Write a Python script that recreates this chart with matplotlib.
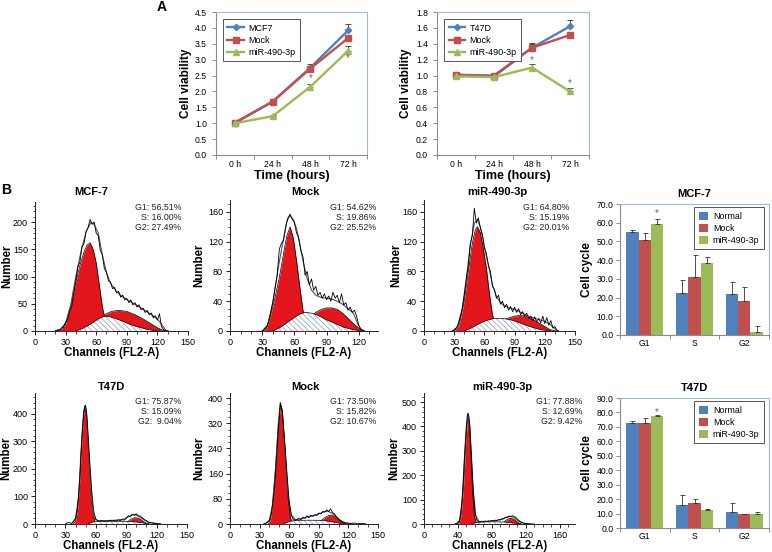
import matplotlib.pyplot as plt
import numpy as np
from matplotlib.ticker import AutoMinorLocator, MultipleLocator, FormatStrFormatter

W, H = 772, 552

BLUE = "#4F81BD"
RED = "#C0504D"
GREEN = "#9BBB59"
FLOW_RED = "#E3161C"
HATCH = "#7D9CCB"
FRAME_GRAY = "#8C8C8C"
FRAME_BLUE = "#9DB9DE"

# ---------------- panel A: cell viability ----------------
hours = ["0 h", "24 h", "48 h", "72 h"]

mcf7_ctrl = [1.00, 1.68, 2.75, 3.92]
mcf7_ctrl_err = [0.03, 0.03, 0.12, 0.20]
mcf7_mock = [1.02, 1.68, 2.72, 3.68]
mcf7_mock_err = [0.03, 0.03, 0.05, 0.05]
mcf7_mir = [1.00, 1.22, 2.15, 3.28]
mcf7_mir_err = [0.03, 0.05, 0.10, 0.15]
mcf7_stars = [(2, 2.42), (3, 3.04)]

t47d_ctrl = [1.01, 1.00, 1.35, 1.62]
t47d_ctrl_err = [0.03, 0.03, 0.05, 0.08]
t47d_mock = [1.01, 0.99, 1.35, 1.51]
t47d_mock_err = [0.02, 0.02, 0.06, 0.03]
t47d_mir = [0.99, 0.98, 1.10, 0.80]
t47d_mir_err = [0.02, 0.02, 0.05, 0.04]
t47d_stars = [(2, 1.19), (3, 0.90)]

# ---------------- panel B: cell cycle bars ----------------
phases = ["G1", "S", "G2"]
groups = ["Normal", "Mock", "miR-490-3p"]

cc_mcf7_normal = [55.0, 22.5, 22.0]
cc_mcf7_normal_err = [1.0, 7.0, 6.5]
cc_mcf7_mock = [51.0, 31.0, 18.0]
cc_mcf7_mock_err = [3.5, 11.5, 7.5]
cc_mcf7_mir = [59.2, 38.5, 1.8]
cc_mcf7_mir_err = [3.0, 3.0, 3.0]
cc_mcf7_star = (0, 65.0)

cc_t47d_normal = [72.5, 16.0, 11.0]
cc_t47d_normal_err = [1.5, 7.0, 6.5]
cc_t47d_mock = [73.0, 17.5, 9.5]
cc_t47d_mock_err = [3.0, 2.5, 0.5]
cc_t47d_mir = [77.5, 12.8, 10.0]
cc_t47d_mir_err = [1.0, 0.5, 0.8]
cc_t47d_star = (0, 80.5)

# ---------------- panel B: flow histograms (channel, count) ----------------
# row 1 MCF-7
mcf7_raw = ([20, 22, 24, 26, 28, 30, 32, 34, 36, 38, 40, 42, 44, 46, 48, 50, 52, 54, 56, 58,
             60, 62, 64, 66, 68, 70, 72, 74, 76, 78, 80, 82, 84, 86, 88, 90, 92, 94, 96, 98,
             100, 102, 104, 106, 108, 110, 112, 114, 116, 118, 120, 122, 124, 126, 128, 130],
            [0, 2, 1, 5, 7, 16, 20, 36, 45, 70, 92, 118, 126, 155, 160, 182, 190, 205, 196, 200,
             180, 175, 148, 140, 115, 108, 92, 90, 78, 80, 70, 73, 62, 66, 57, 60, 52, 57, 48, 52,
             44, 48, 39, 42, 34, 38, 30, 33, 24, 28, 20, 32, 8, 3, 0, 0])
mcf7_fit = ([20, 25, 30, 35, 40, 45, 50, 55, 58, 62, 66, 70, 74, 80, 85, 90, 95, 100, 105,
             110, 115, 120, 125, 128, 131],
            [0, 3, 15, 48, 100, 145, 182, 200, 196, 180, 140, 108, 88, 72, 64, 58, 52, 47, 41,
             35, 29, 22, 10, 2, 0])
mcf7_g1 = ([20, 25, 30, 35, 40, 44, 48, 51, 54, 57, 60, 63, 66, 69, 72, 76],
           [0, 3, 12, 45, 90, 120, 145, 158, 162, 150, 125, 85, 45, 18, 6, 0])
mcf7_s = ([40, 46, 52, 58, 64, 68, 74, 80, 86, 92, 98, 104, 110, 116, 122],
          [0, 4, 10, 17, 24, 27, 26, 22, 18, 13, 9, 6, 3, 1, 0])
mcf7_g2 = ([55, 62, 68, 75, 82, 90, 98, 106, 114, 120, 126, 130],
           [10, 20, 30, 36, 38, 36, 30, 22, 13, 6, 1, 0])
mcf7_pct = "G1: 56.51%\nS: 16.00%\nG2: 27.49%"

# row 1 Mock
mock1_raw = ([30, 32, 34, 36, 38, 40, 42, 44, 46, 48, 50, 52, 54, 56, 58, 60, 62, 64, 66, 68,
              70, 72, 74, 76, 78, 80, 82, 84, 86, 88, 90, 92, 94, 96, 98, 100, 102, 104, 106,
              108, 110, 112, 114, 116, 118, 120, 122, 124],
             [0, 2, 5, 12, 25, 40, 58, 75, 110, 118, 122, 140, 152, 157, 150, 146, 132, 125, 108,
              100, 75, 80, 62, 70, 55, 60, 48, 52, 44, 50, 42, 47, 40, 52, 44, 48, 38, 50, 35,
              38, 28, 32, 25, 28, 20, 8, 2, 0])
mock1_fit = ([30, 35, 40, 45, 50, 53, 56, 59, 62, 65, 68, 72, 76, 80, 85, 90, 95, 100, 105,
              110, 115, 119, 123],
             [0, 8, 38, 85, 125, 148, 155, 150, 138, 118, 95, 70, 55, 48, 45, 44, 43, 40, 36,
              30, 24, 10, 0])
mock1_g1 = ([30, 34, 38, 42, 46, 50, 53, 56, 59, 62, 65, 68, 71, 75],
            [0, 3, 22, 45, 72, 105, 128, 140, 125, 95, 60, 28, 10, 0])
mock1_s = ([40, 46, 52, 58, 64, 70, 76, 82, 90, 98, 106, 114, 122],
           [0, 4, 10, 16, 22, 25, 24, 21, 15, 10, 5, 2, 0])
mock1_g2 = ([70, 76, 80, 85, 90, 95, 100, 105, 110, 115, 120, 126],
            [14, 20, 25, 29, 31, 31, 29, 24, 17, 10, 4, 0])
mock1_pct = "G1: 54.62%\nS: 19.86%\nG2: 25.52%"

# row 1 miR-490-3p
mir1_raw = ([28, 30, 32, 34, 36, 38, 40, 42, 44, 46, 48, 50, 52, 54, 56, 58, 60, 62, 64, 66,
             68, 70, 72, 74, 76, 78, 80, 82, 84, 86, 88, 90, 92, 94, 96, 98, 100, 102, 104,
             106, 108, 110, 112, 114, 116, 118, 120, 122, 124, 126, 128, 130, 132, 134],
            [0, 1, 4, 9, 18, 30, 48, 70, 88, 118, 128, 165, 145, 152, 138, 130, 112, 104, 88, 80,
             60, 56, 44, 48, 36, 40, 31, 36, 28, 33, 26, 32, 25, 30, 22, 26, 20, 24, 17,
             20, 14, 19, 12, 17, 11, 20, 10, 18, 8, 14, 4, 6, 1, 0])
mir1_fit = ([28, 33, 38, 42, 46, 50, 53, 56, 59, 62, 65, 68, 72, 76, 80, 85, 90, 95, 100,
             105, 110, 115, 120, 125, 130, 133],
            [0, 5, 30, 70, 115, 145, 150, 140, 120, 100, 82, 62, 46, 38, 34, 31, 29, 26, 22,
             19, 17, 15, 13, 9, 3, 0])
mir1_g1 = ([30, 35, 40, 44, 48, 51, 53, 56, 59, 62, 65, 68, 71, 75],
           [0, 8, 40, 80, 118, 136, 140, 132, 110, 84, 50, 22, 8, 0])
mir1_s = ([40, 47, 55, 62, 70, 78, 86, 95, 105, 115, 125],
          [0, 4, 10, 14, 17, 17, 15, 11, 6, 2, 0])
mir1_g2 = ([70, 78, 85, 90, 95, 100, 105, 110, 115, 120, 125, 131],
           [8, 14, 18, 20, 21, 20, 18, 14, 10, 6, 2, 0])
mir1_pct = "G1: 64.80%\nS: 15.19%\nG2: 20.01%"

# row 2 T47D
t47d_raw = ([30, 33, 36, 38, 40, 42, 44, 46, 48, 49, 50, 51, 52, 54, 56, 58, 60, 62, 64, 66,
             68, 70, 72, 74, 76, 78, 80, 82, 84, 86, 88, 90, 92, 94, 96, 98, 100, 102, 104,
             106, 108, 110, 112, 114, 116, 118, 120, 124],
            [0, 6, 2, 8, 20, 60, 150, 300, 400, 425, 430, 405, 350, 230, 120, 45, 18, 12, 10, 13,
             9, 12, 10, 14, 11, 13, 10, 15, 12, 16, 14, 20, 30, 26, 36, 33, 37, 30, 28,
             22, 16, 12, 6, 4, 3, 2, 1, 0])
t47d_fit = ([36, 40, 43, 46, 48, 49.5, 51, 53, 55, 57, 59, 62, 70, 80, 88, 92, 96, 100, 104,
             108, 112, 118, 124],
            [0, 20, 100, 300, 410, 432, 395, 260, 120, 45, 18, 12, 12, 14, 18, 26, 33, 32, 24,
             14, 7, 3, 0])
t47d_g1 = ([38, 40, 42, 44, 46, 48, 49.5, 51, 53, 55, 57, 59, 61],
           [0, 10, 50, 150, 290, 400, 430, 380, 260, 130, 45, 10, 0])
t47d_s = ([52, 58, 65, 75, 85, 95, 105, 112],
          [0, 8, 10, 10, 10, 9, 5, 0])
t47d_g2 = ([88, 92, 95, 98, 101, 104, 107, 110, 113],
           [0, 10, 18, 23, 22, 17, 9, 3, 0])
t47d_pct = "G1: 75.87%\nS: 15.09%\nG2:  9.04%"

# row 2 Mock
mock2_raw = ([34, 37, 40, 42, 44, 46, 48, 50, 51, 52, 53, 54, 56, 58, 60, 62, 64, 66, 68, 70,
              72, 74, 76, 78, 80, 82, 84, 86, 88, 90, 92, 94, 96, 98, 100, 102, 104, 106, 108,
              110, 112, 114, 116, 118, 122, 126, 130, 134, 138],
             [0, 4, 12, 35, 80, 150, 250, 340, 385, 370, 360, 320, 240, 150, 70, 30, 14, 12, 15,
              18, 14, 22, 18, 26, 20, 28, 24, 30, 27, 35, 32, 40, 38, 45, 40, 48, 36, 32, 22,
              15, 10, 7, 4, 3, 2, 3, 1, 2, 0])
mock2_fit = ([36, 40, 43, 46, 49, 51, 53, 56, 59, 62, 66, 72, 78, 84, 90, 95, 99, 103, 107,
              111, 115, 120, 125],
             [0, 12, 60, 170, 320, 385, 360, 220, 90, 30, 14, 16, 22, 26, 32, 38, 41, 35, 25,
              14, 6, 2, 0])
mock2_g1 = ([39, 41, 43, 45, 47, 49, 51, 52, 53, 55, 57, 59, 61, 63],
            [0, 15, 60, 130, 220, 320, 370, 375, 355, 270, 170, 80, 25, 0])
mock2_s = ([54, 60, 66, 75, 85, 95, 105, 115],
           [0, 8, 11, 12, 12, 11, 6, 0])
mock2_g2 = ([88, 92, 96, 100, 103, 106, 110, 114, 118],
            [0, 10, 20, 27, 28, 24, 14, 5, 0])
mock2_pct = "G1: 73.50%\nS: 15.82%\nG2: 10.67%"

# row 2 miR-490-3p
mir2_raw = ([36, 40, 42, 44, 46, 48, 50, 51, 52, 53, 54, 56, 58, 60, 62, 64, 66, 68, 70, 72,
             74, 76, 78, 80, 82, 84, 86, 88, 90, 92, 94, 96, 98, 100, 102, 104, 106, 108, 110,
             112, 114, 116, 118, 120, 124, 130],
            [0, 4, 15, 60, 150, 290, 400, 445, 455, 440, 400, 270, 140, 50, 16, 10, 8, 11, 9, 12,
             10, 13, 11, 15, 12, 16, 14, 18, 16, 22, 20, 28, 25, 33, 30, 34, 31, 28, 20,
             14, 9, 5, 3, 2, 1, 0])
mir2_fit = ([38, 42, 45, 48, 50, 52, 54, 56, 58, 61, 65, 75, 85, 92, 97, 101, 105, 109, 113,
             118, 124],
            [0, 15, 100, 290, 400, 450, 400, 270, 140, 35, 10, 11, 14, 20, 28, 31, 28, 18, 9,
             3, 0])
mir2_g1 = ([41, 44, 47, 49, 51, 52, 53.5, 55.5, 57.5, 59.5, 62],
           [0, 40, 170, 320, 420, 447, 410, 270, 120, 30, 0])
mir2_s = ([56, 62, 68, 75, 85, 95, 105, 114],
          [0, 6, 8, 9, 9, 8, 4, 0])
mir2_g2 = ([90, 94, 97, 100, 103, 106, 109, 112, 115],
           [0, 8, 16, 22, 23, 19, 11, 4, 0])
mir2_pct = "G1: 77.88%\nS: 12.69%\nG2: 9.42%"


def px_axes(fig, x0, y0, x1, y1):
    ax = fig.add_axes([x0 / W, 1 - y1 / H, (x1 - x0) / W, (y1 - y0) / H])
    ax.px_box = (x0, y0, x1, y1)
    return ax


def place_labels(ax, ylab_x, xlab_y):
    # centre of the y label at pixel x, centre of the x label at pixel y
    x0, y0, x1, y1 = ax.px_box
    ax.yaxis.set_label_coords((ylab_x + 5 - x0) / (x1 - x0), 0.5)
    ax.xaxis.set_label_coords(0.5, -(xlab_y - 5 - y1) / (y1 - y0))


def fig_text(fig, x, y, s, **kw):
    fig.text(x / W, 1 - y / H, s, **kw)


def excel_frame(ax):
    ax.spines["left"].set_color(FRAME_GRAY)
    ax.spines["bottom"].set_color(FRAME_GRAY)
    ax.spines["top"].set_color(FRAME_BLUE)
    ax.spines["right"].set_color(FRAME_BLUE)
    for sp in ax.spines.values():
        sp.set_linewidth(0.8)
    ax.tick_params(axis="both", which="both", direction="out", color=FRAME_GRAY,
                   labelsize=6.2, width=0.7)


def viability(ax, ctrl, ctrl_err, mock, mock_err, mir, mir_err, stars, ctrl_name, ymax, ystep):
    x = np.arange(len(hours))
    series = [
        (ctrl, ctrl_err, ctrl_name, BLUE, "D", 3.2),
        (mock, mock_err, "Mock", RED, "s", 4.8),
        (mir, mir_err, "miR-490-3p", GREEN, "^", 4.8),
    ]
    for vals, err, name, col, mk, ms in series:
        ax.errorbar(x, vals, yerr=[np.zeros(len(err)), err], fmt="none", ecolor="#333333",
                    elinewidth=0.6, capsize=2, capthick=0.6)
    for vals, err, name, col, mk, ms in series:
        ax.plot(x, vals, color=col, lw=1.7, marker=mk, ms=ms, label=name)
    for xi, yi in stars:
        ax.text(xi, yi, "*", ha="center", va="center", fontsize=7, color="#666666")

    ax.set_xlim(-0.5, len(hours) - 0.5)
    ax.set_ylim(0, ymax)
    ax.set_xticks(x)
    ax.set_xticklabels(hours)
    ax.set_xticks(np.arange(-0.5, len(hours)), minor=True)
    ax.yaxis.set_major_locator(MultipleLocator(ystep))
    ax.yaxis.set_major_formatter(FormatStrFormatter("%.1f"))
    excel_frame(ax)
    ax.tick_params(axis="x", which="major", length=0, pad=3.5)
    ax.tick_params(axis="x", which="minor", length=3)
    ax.tick_params(axis="y", length=3)
    ax.set_ylabel("Cell viability", fontsize=8.5, fontweight="bold")
    ax.set_xlabel("Time (hours)", fontsize=9, fontweight="bold")
    leg = ax.legend(loc="upper left", bbox_to_anchor=(0.046, 0.951), fontsize=6.5,
                    fancybox=False, edgecolor="#555555", framealpha=1, borderpad=0.5,
                    labelspacing=0.35, handlelength=1.8, handletextpad=0.5, borderaxespad=0)
    leg.get_frame().set_linewidth(0.7)


def cycle_bars(ax, normal, normal_err, mock, mock_err, mir, mir_err, star, ymax, title):
    x = np.arange(len(phases))
    bw = 0.25
    sets = [(normal, normal_err, BLUE), (mock, mock_err, RED), (mir, mir_err, GREEN)]
    for i, (vals, err, col) in enumerate(sets):
        pos = x + (i - 1) * bw
        ax.bar(pos, vals, width=bw, color=col, label=groups[i], zorder=2)
        ax.errorbar(pos, vals, yerr=[np.zeros(len(err)), err], fmt="none", ecolor="#333333",
                    elinewidth=0.6, capsize=1.8, capthick=0.6, zorder=3)
    ax.text(star[0] + bw, star[1], "*", ha="center", va="center", fontsize=7, color="#666666")
    ax.set_xlim(-0.5, len(phases) - 0.5)
    ax.set_ylim(0, ymax)
    ax.set_xticks(x)
    ax.set_xticklabels(phases)
    ax.set_xticks(np.arange(-0.5, len(phases)), minor=True)
    ax.yaxis.set_major_locator(MultipleLocator(10))
    ax.yaxis.set_major_formatter(FormatStrFormatter("%.1f"))
    excel_frame(ax)
    ax.tick_params(axis="x", which="major", length=0, pad=3)
    ax.tick_params(axis="x", which="minor", length=3)
    ax.tick_params(axis="y", length=3, pad=1.5)
    ax.set_ylabel("Cell cycle", fontsize=8.5, fontweight="bold")
    ax.set_title(title, fontsize=8, fontweight="bold", pad=5)
    leg = ax.legend(loc="upper right", bbox_to_anchor=(0.966, 0.975), fontsize=6.4,
                    fancybox=False, edgecolor="#555555", framealpha=1, borderpad=0.5,
                    labelspacing=0.35, handlelength=1.1, handleheight=1.0, handletextpad=0.5,
                    borderaxespad=0)
    leg.get_frame().set_linewidth(0.7)


def flow(ax, raw, fit, g1, s, g2, xmax, xstep, xminor, ymax, ystep, yminor):
    ax.fill_between(g2[0], g2[1], 0, color=FLOW_RED, lw=0, zorder=2)
    ax.plot(g2[0], g2[1], color="black", lw=0.5, zorder=2.1)
    ax.fill_between(g1[0], g1[1], 0, color=FLOW_RED, lw=0, zorder=3)
    ax.plot(g1[0], g1[1], color="black", lw=0.5, zorder=3.1)
    ax.fill_between(s[0], s[1], 0, facecolor="white", edgecolor=HATCH, hatch="\\\\\\\\\\\\",
                    lw=0, zorder=4)
    ax.plot(s[0], s[1], color="black", lw=0.5, zorder=4.1)
    ax.plot(fit[0], fit[1], color="#555555", lw=0.8, zorder=5)
    ax.plot(raw[0], raw[1], color="black", lw=0.6, zorder=6)

    ax.set_xlim(0, xmax)
    ax.set_ylim(0, ymax)
    ax.xaxis.set_major_locator(MultipleLocator(xstep))
    ax.xaxis.set_minor_locator(AutoMinorLocator(xminor))
    ax.yaxis.set_major_locator(MultipleLocator(ystep))
    ax.yaxis.set_minor_locator(AutoMinorLocator(yminor))
    for side in ["top", "right"]:
        ax.spines[side].set_visible(False)
    for side in ["left", "bottom"]:
        ax.spines[side].set_linewidth(0.7)
        ax.spines[side].set_color("#222222")
    ax.tick_params(axis="both", which="major", length=3, width=0.6, labelsize=6.5, pad=2)
    ax.tick_params(axis="both", which="minor", length=1.8, width=0.5)
    ax.set_xlabel("Channels (FL2-A)", fontsize=8.3, fontweight="bold")
    ax.set_ylabel("Number", fontsize=8.3, fontweight="bold")


plt.rcParams["font.family"] = ["Liberation Sans", "DejaVu Sans"]
plt.rcParams["hatch.linewidth"] = 0.5

fig = plt.figure(figsize=(W / 100, H / 100), dpi=100)

# panel A
ax = px_axes(fig, 216, 12, 367, 155)
viability(ax, mcf7_ctrl, mcf7_ctrl_err, mcf7_mock, mcf7_mock_err, mcf7_mir, mcf7_mir_err,
          mcf7_stars, "MCF7", 4.5, 0.5)
place_labels(ax, 187, 175)
ax = px_axes(fig, 437, 12, 589, 155)
viability(ax, t47d_ctrl, t47d_ctrl_err, t47d_mock, t47d_mock_err, t47d_mir, t47d_mir_err,
          t47d_stars, "T47D", 1.8, 0.2)
place_labels(ax, 407, 175)

fig_text(fig, 162, 7, "A", fontsize=10, fontweight="bold", ha="center", va="center")
fig_text(fig, 6, 190, "B", fontsize=10, fontweight="bold", ha="center", va="center")

# panel B flow histograms
flows = [
    ((35, 202, 188, 331), mcf7_raw, mcf7_fit, mcf7_g1, mcf7_s, mcf7_g2, 150, 30, 3, 237, 50, 5,
     "MCF-7", 91, 192, mcf7_pct, 181, 203, 8, 352),
    ((230, 200, 378, 331), mock1_raw, mock1_fit, mock1_g1, mock1_s, mock1_g2, 138, 30, 3, 176, 40, 4,
     "Mock", 305, 192, mock1_pct, 376, 203, 200, 352),
    ((424, 200, 575, 331), mir1_raw, mir1_fit, mir1_g1, mir1_s, mir1_g2, 150, 30, 3, 176, 40, 4,
     "miR-490-3p", 497, 192, mir1_pct, 569, 203, 397, 352),
    ((35, 393, 187, 524), t47d_raw, t47d_fit, t47d_g1, t47d_s, t47d_g2, 150, 30, 3, 476, 100, 5,
     "T47D", 112, 387, t47d_pct, 181, 397, 7, 545),
    ((230, 393, 378, 524), mock2_raw, mock2_fit, mock2_g1, mock2_s, mock2_g2, 150, 30, 3, 416, 80, 4,
     "Mock", 305, 387, mock2_pct, 376, 397, 200, 545),
    ((424, 393, 575, 524), mir2_raw, mir2_fit, mir2_g1, mir2_s, mir2_g2, 178, 40, 4, 537, 100, 5,
     "miR-490-3p", 502, 387, mir2_pct, 582, 397, 395, 545),
]
for (box, raw, fit, g1, s, g2, xmax, xstep, xminor, ymax, ystep, yminor,
     title, tx, ty, pct, px, py, lx, ly) in flows:
    ax = px_axes(fig, *box)
    flow(ax, raw, fit, g1, s, g2, xmax, xstep, xminor, ymax, ystep, yminor)
    place_labels(ax, lx, ly)
    fig_text(fig, tx, ty, title, fontsize=8, fontweight="bold", ha="center", va="center")
    fig_text(fig, px, py, pct, fontsize=6.3, ha="right", va="top", multialignment="right",
             linespacing=1.15, color="#222222")

# panel B cell cycle bars
ax = px_axes(fig, 620, 204, 769, 335)
cycle_bars(ax, cc_mcf7_normal, cc_mcf7_normal_err, cc_mcf7_mock, cc_mcf7_mock_err,
           cc_mcf7_mir, cc_mcf7_mir_err, cc_mcf7_star, 70, "MCF-7")
place_labels(ax, 588, 341)
ax = px_axes(fig, 620, 398, 769, 528)
cycle_bars(ax, cc_t47d_normal, cc_t47d_normal_err, cc_t47d_mock, cc_t47d_mock_err,
           cc_t47d_mir, cc_t47d_mir_err, cc_t47d_star, 90, "T47D")
place_labels(ax, 588, 541)

fig.savefig("out.png", dpi=100)
